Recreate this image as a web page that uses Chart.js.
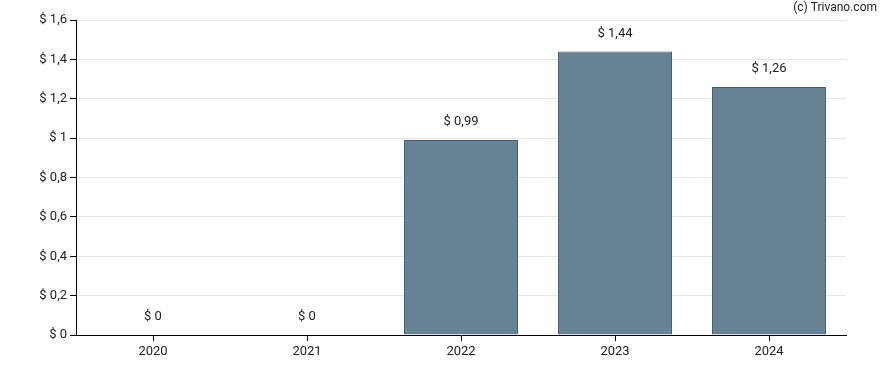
<!DOCTYPE html>
<html><head><meta charset="utf-8">
<script src="https://cdn.jsdelivr.net/npm/chart.js@4/dist/chart.umd.min.js"></script>
<style>html,body{margin:0;padding:0;background:#fff}#w{width:888px;height:370px;position:relative}</style>
</head><body><div id="w"><canvas id="c" width="888" height="370"></canvas></div>
<script>
const years = ['2020','2021','2022','2023','2024'];
const values = [0, 0, 0.99, 1.44, 1.26];
const yTicks = [0, 0.2, 0.4, 0.6, 0.8, 1, 1.2, 1.4, 1.6];

const fmt = v => '$ ' + String(Math.round(v*100)/100).replace('.', ',');
const FONT = 'Roboto, "Liberation Sans", Arial, sans-serif';

const labelPlugin = {
  id: 'lbl',
  afterDatasetsDraw(chart) {
    const ctx = chart.ctx;
    const meta = chart.getDatasetMeta(0);
    ctx.save();
    ctx.font = '13px ' + FONT;
    ctx.fillStyle = '#222';
    ctx.textAlign = 'center';
    ctx.textBaseline = 'middle';
    meta.data.forEach((bar, i) => {
      ctx.fillText(fmt(values[i]), bar.x, bar.y - 18);
    });
    ctx.font = '12px ' + FONT;
    ctx.textAlign = 'right';
    ctx.fillText('(c) Trivano.com', 877, 8);
    ctx.restore();
  }
};

new Chart(document.getElementById('c'), {
  type: 'bar',
  data: { labels: years, datasets: [{
    data: values,
    backgroundColor: '#668293',
    borderColor: '#435d70',
    borderWidth: 1,
    categoryPercentage: 0.74,
    barPercentage: 1
  }]},
  options: {
    responsive: false,
    animation: false,
    layout: { padding: { top: 20, right: 42, left: 0, bottom: 0 } },
    plugins: { legend: { display: false }, tooltip: { enabled: false } },
    scales: {
      x: {
        grid: { drawOnChartArea: false, offset: false, tickLength: 6, tickColor: '#000' },
        border: { color: '#000', width: 1 },
        ticks: { color: '#222', font: { family: FONT, size: 13 }, padding: 3 },
        afterFit(s) { s.height = 35; }
      },
      y: {
        min: 0, max: 1.6,
        afterBuildTicks(s) { s.ticks = yTicks.map(v => ({ value: v })); },
        grid: { color: '#e6e6e6', tickLength: 6, tickColor: '#000' },
        border: { color: '#000', width: 1 },
        ticks: { color: '#222', font: { family: FONT, size: 13 }, padding: 3, callback: v => fmt(v) },
        afterFit(s) { s.width = 76; }
      }
    }
  },
  plugins: [labelPlugin]
});
</script></body></html>
